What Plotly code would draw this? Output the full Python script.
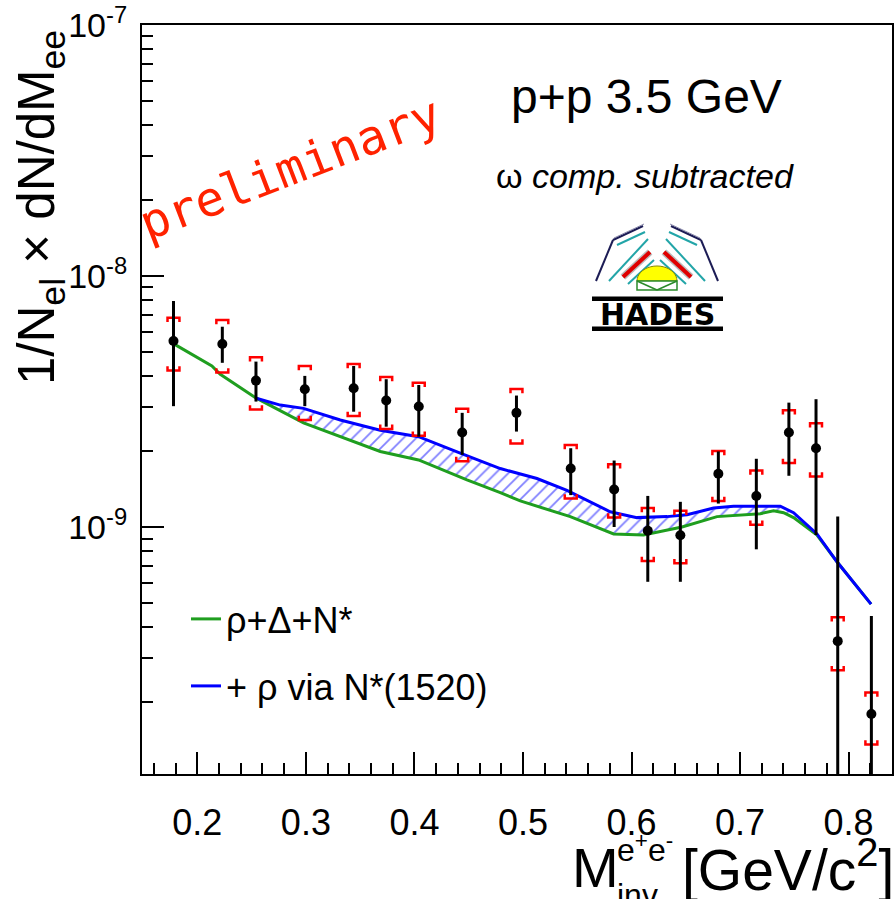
import plotly.graph_objects as go
import math

# ---------------- data ----------------
mass = [0.178, 0.223, 0.254, 0.299, 0.344, 0.374, 0.404, 0.444, 0.494, 0.544,
        0.584, 0.615, 0.645, 0.680, 0.715, 0.745, 0.770, 0.790, 0.821]
yield_val = [5.51e-9, 5.36e-9, 3.83e-9, 3.54e-9, 3.57e-9, 3.19e-9, 3.02e-9, 2.38e-9, 2.85e-9, 1.71e-9,
             1.41e-9, 9.67e-10, 9.27e-10, 1.63e-9, 1.33e-9, 2.38e-9, 2.06e-9, 3.51e-10, 1.80e-10]
stat_hi = [7.95e-9, 6.28e-9, 4.56e-9, 4.00e-9, 4.38e-9, 3.88e-9, 3.68e-9, 2.85e-9, 3.34e-9, 2.06e-9,
           1.84e-9, 1.33e-9, 1.26e-9, 2.00e-9, 1.87e-9, 3.13e-9, 3.23e-9, 1.10e-9, 4.42e-10]
stat_lo = [3.03e-9, 4.51e-9, 3.16e-9, 3.03e-9, 2.88e-9, 2.51e-9, 2.29e-9, 1.94e-9, 2.40e-9, 1.34e-9,
           1.00e-9, 6.05e-10, 6.05e-10, 1.24e-9, 8.15e-10, 1.60e-9, 9.29e-10, 0.0, 0.0]
sys_hi = [6.82e-9, 6.68e-9, 4.75e-9, 4.38e-9, 4.46e-9, 3.96e-9, 3.76e-9, 2.96e-9, 3.55e-9, 2.12e-9,
          1.78e-9, 1.19e-9, 1.16e-9, 2.01e-9, 1.68e-9, 2.92e-9, 2.59e-9, 4.37e-10, 2.19e-10]
sys_lo = [4.20e-9, 4.13e-9, 2.94e-9, 2.67e-9, 2.77e-9, 2.46e-9, 2.31e-9, 1.83e-9, 2.15e-9, 1.30e-9,
          1.09e-9, 7.32e-10, 7.17e-10, 1.27e-9, 1.02e-9, 1.80e-9, 1.59e-9, 2.69e-10, 1.36e-10]

green_x = [0.1775, 0.2134, 0.2211, 0.2543, 0.2978, 0.3317, 0.3685, 0.4038, 0.4484, 0.4791, 0.4975,
           0.5436, 0.5835, 0.6111, 0.6465, 0.6788, 0.7187, 0.7309, 0.7401, 0.7493, 0.7709, 0.7893, 0.8207]
green_y = [5.39e-9, 4.38e-9, 4.06e-9, 3.26e-9, 2.60e-9, 2.29e-9, 2.00e-9, 1.85e-9, 1.54e-9, 1.37e-9, 1.27e-9,
           1.10e-9, 9.38e-10, 9.29e-10, 1.00e-9, 1.10e-9, 1.13e-9, 1.16e-9, 1.14e-9, 1.09e-9, 9.29e-10, 7.27e-10, 4.93e-10]

blue_x = [0.2543, 0.2764, 0.2978, 0.3317, 0.3685, 0.4038, 0.4422, 0.4699, 0.4791, 0.5129, 0.5405,
          0.5804, 0.6050, 0.6327, 0.6511, 0.6756, 0.6940, 0.7371, 0.7493, 0.7709, 0.7893, 0.8207]
blue_y = [3.26e-9, 3.06e-9, 2.97e-9, 2.67e-9, 2.43e-9, 2.29e-9, 1.97e-9, 1.77e-9, 1.71e-9, 1.56e-9, 1.40e-9,
          1.15e-9, 1.09e-9, 1.10e-9, 1.12e-9, 1.19e-9, 1.21e-9, 1.21e-9, 1.14e-9, 9.38e-10, 7.27e-10, 4.93e-10]

x_tick_vals = [0.2, 0.3, 0.4, 0.5, 0.6, 0.7, 0.8]
y_tick_vals = [1e-9, 1e-8, 1e-7]
y_tick_text = ["10<sup>-9</sup>", "10<sup>-8</sup>", "10<sup>-7</sup>"]

label_green = "ρ+Δ+N*"
label_blue = "+ ρ via N*(1520)"

# ---------------- geometry ----------------
W, H = 895, 899
L, R, T, B = 142, 892, 25, 774
FONT = "Liberation Sans, Arial, sans-serif"


def px(xp):
    return (xp - L) / (R - L)


def py(yp):
    return (B - yp) / (B - T)


GREEN = "#1f9e1f"
BLUE = "#0000ff"
RED = "#ff0000"

fig = go.Figure()

# hatched band between models
start = blue_x[0]
base_x = [x for x in green_x if x >= start - 1e-9]
base_y = [y for x, y in zip(green_x, green_y) if x >= start - 1e-9]
fig.add_trace(go.Scatter(x=base_x, y=base_y, mode="lines",
                         line=dict(width=0, color="rgba(0,0,0,0)"),
                         showlegend=False, hoverinfo="skip"))
fig.add_trace(go.Scatter(x=blue_x, y=blue_y, mode="lines",
                         line=dict(width=0, color="rgba(0,0,0,0)"),
                         fill="tonexty", fillcolor="rgba(0,0,0,0)",
                         fillpattern=dict(shape="/", fgcolor=BLUE, bgcolor="rgba(0,0,0,0)",
                                          size=9, solidity=0.2),
                         showlegend=False, hoverinfo="skip"))

# model curves
fig.add_trace(go.Scatter(x=green_x, y=green_y, mode="lines", name=label_green,
                         line=dict(color=GREEN, width=3), legend="legend"))
fig.add_trace(go.Scatter(x=blue_x, y=blue_y, mode="lines", name=label_blue,
                         line=dict(color=BLUE, width=3), legend="legend2"))

# systematic brackets
hw = 0.0055
k = 10 ** 0.017
bx, by = [], []
for x, hi, lo in zip(mass, sys_hi, sys_lo):
    bx += [x - hw, x - hw, x + hw, x + hw, None]
    by += [hi / k, hi, hi, hi / k, None]
    bx += [x - hw, x - hw, x + hw, x + hw, None]
    by += [lo * k, lo, lo, lo * k, None]
fig.add_trace(go.Scatter(x=bx, y=by, mode="lines", line=dict(color=RED, width=2.5),
                         showlegend=False, hoverinfo="skip"))

# data points with stat errors
fig.add_trace(go.Scatter(
    x=mass, y=yield_val, mode="markers", showlegend=False,
    marker=dict(color="black", size=10, symbol="circle"),
    error_y=dict(type="data", symmetric=False,
                 array=[h - y for h, y in zip(stat_hi, yield_val)],
                 arrayminus=[y - l for l, y in zip(stat_lo, yield_val)],
                 width=0, thickness=3, color="black"),
))

# ---------------- HADES logo (decoration) ----------------
shapes = []


def seg(x0, y0, x1, y1, color, w):
    shapes.append(dict(type="line", xref="paper", yref="paper",
                       x0=px(x0), y0=py(y0), x1=px(x1), y1=py(y1),
                       line=dict(color=color, width=w), layer="above"))


cx = 657
NAVY = "#1c1c55"
TEAL = "#22a5a8"
for sgn in (-1, 1):
    def X(d):
        return cx + sgn * d
    seg(X(61), 281, X(44), 240, NAVY, 2)
    seg(X(44), 240, X(14), 226, NAVY, 2)
    seg(X(43), 238, X(13), 224, "#8888aa", 1)
    seg(X(48), 281, X(9), 239, TEAL, 2)
    seg(X(40), 245, X(12), 232, TEAL, 2)
    seg(X(29), 284, X(3), 260, TEAL, 2)
    seg(X(34), 277, X(7), 252, "#bbbbbb", 7)
    seg(X(34), 277, X(7), 252, "#e00000", 4)

r = 20
pts = []
for i in range(0, 21):
    a = math.pi * i / 20
    pts.append((cx + r * math.cos(a), 281 - r * math.sin(a) * 0.75))
path = "M " + " L ".join(f"{px(a):.5f},{py(b):.5f}" for a, b in pts) + " Z"
shapes.append(dict(type="path", xref="paper", yref="paper", path=path,
                   fillcolor="#ffff00", line=dict(color="#888800", width=1), layer="above"))
shapes.append(dict(type="rect", xref="paper", yref="paper",
                   x0=px(637), y0=py(290), x1=px(677), y1=py(281),
                   fillcolor="white", line=dict(color="#2a8a2a", width=1.5), layer="above"))
seg(637, 281, cx, 290, "#2a8a2a", 1.5)
seg(677, 281, cx, 290, "#2a8a2a", 1.5)
shapes.append(dict(type="rect", xref="paper", yref="paper",
                   x0=px(592), y0=py(301), x1=px(723), y1=py(296.5),
                   fillcolor="black", line=dict(width=0), layer="above"))
shapes.append(dict(type="rect", xref="paper", yref="paper",
                   x0=px(592), y0=py(331), x1=px(723), y1=py(326.5),
                   fillcolor="black", line=dict(width=0), layer="above"))

# ---------------- annotations ----------------
ann = []


def text(t, x, y, size, color="black", xanchor="center", yanchor="middle", angle=0, family=FONT):
    ann.append(dict(text=t, xref="paper", yref="paper", x=px(x), y=py(y),
                    xanchor=xanchor, yanchor=yanchor, showarrow=False, textangle=angle,
                    borderpad=0,
                    font=dict(size=size, color=color, family=family)))


text("<b>HADES</b>", cx, 314, 30, family="DejaVu Sans, sans-serif")
text("p+p 3.5 GeV", 646, 96, 48)
text("ω <i>comp. subtracted</i>", 645, 176, 34)
text("preliminary", 290, 168, 48, color="#ff2200", angle=-21, family="DejaVu Sans Mono, monospace")
text("1/N<sub>el</sub> × dN/dM<sub>ee</sub>", 40, 208, 51, angle=-90)
text("[GeV/c<sup>2</sup>]", 895, 866, 57, xanchor="right")
text("M", 620, 867, 56, xanchor="right")
text("e<sup>+</sup>e<sup>-</sup>", 616, 848, 32, xanchor="left")
text("inv", 616, 895, 32, xanchor="left")

axis_common = dict(showline=True, linewidth=2, linecolor="black", mirror=True,
                   ticks="inside", tickwidth=2, tickcolor="black", ticklen=22,
                   showgrid=False, zeroline=False)

minor_y = [m * 10 ** e for e in (-10, -9, -8) for m in range(2, 10)]

fig.update_layout(
    width=W, height=H,
    margin=dict(l=L, r=W - R, t=T, b=H - B, autoexpand=False),
    paper_bgcolor="white", plot_bgcolor="white",
    font=dict(family=FONT, color="black"),
    xaxis=dict(range=[0.149, 0.840], tickvals=x_tick_vals,
               ticktext=[f"{v:.1f}" for v in x_tick_vals],
               tickfont=dict(size=36, family=FONT), ticklabelstandoff=16,
               minor=dict(ticks="inside", ticklen=11, tickwidth=2, tickcolor="black",
                          dtick=0.02, tick0=0.0, showgrid=False),
               **axis_common),
    yaxis=dict(type="log", range=[-9.984, -7], tickvals=y_tick_vals, ticktext=y_tick_text,
               tickfont=dict(size=34, family=FONT), ticklabelstandoff=6,
               minor=dict(ticks="inside", ticklen=11, tickwidth=2, tickcolor="black",
                          tickvals=minor_y, showgrid=False),
               **axis_common),
    legend=dict(x=px(186), y=py(619), xanchor="left", yanchor="middle",
                bgcolor="rgba(0,0,0,0)", font=dict(size=36, family=FONT)),
    legend2=dict(x=px(186), y=py(686), xanchor="left", yanchor="middle",
                 bgcolor="rgba(0,0,0,0)", font=dict(size=36, family=FONT)),
    shapes=shapes,
    annotations=ann,
)

fig.write_html("out.html", config={"displayModeBar": False},
               post_script="document.body.style.margin='0px';document.body.style.overflow='hidden';")
